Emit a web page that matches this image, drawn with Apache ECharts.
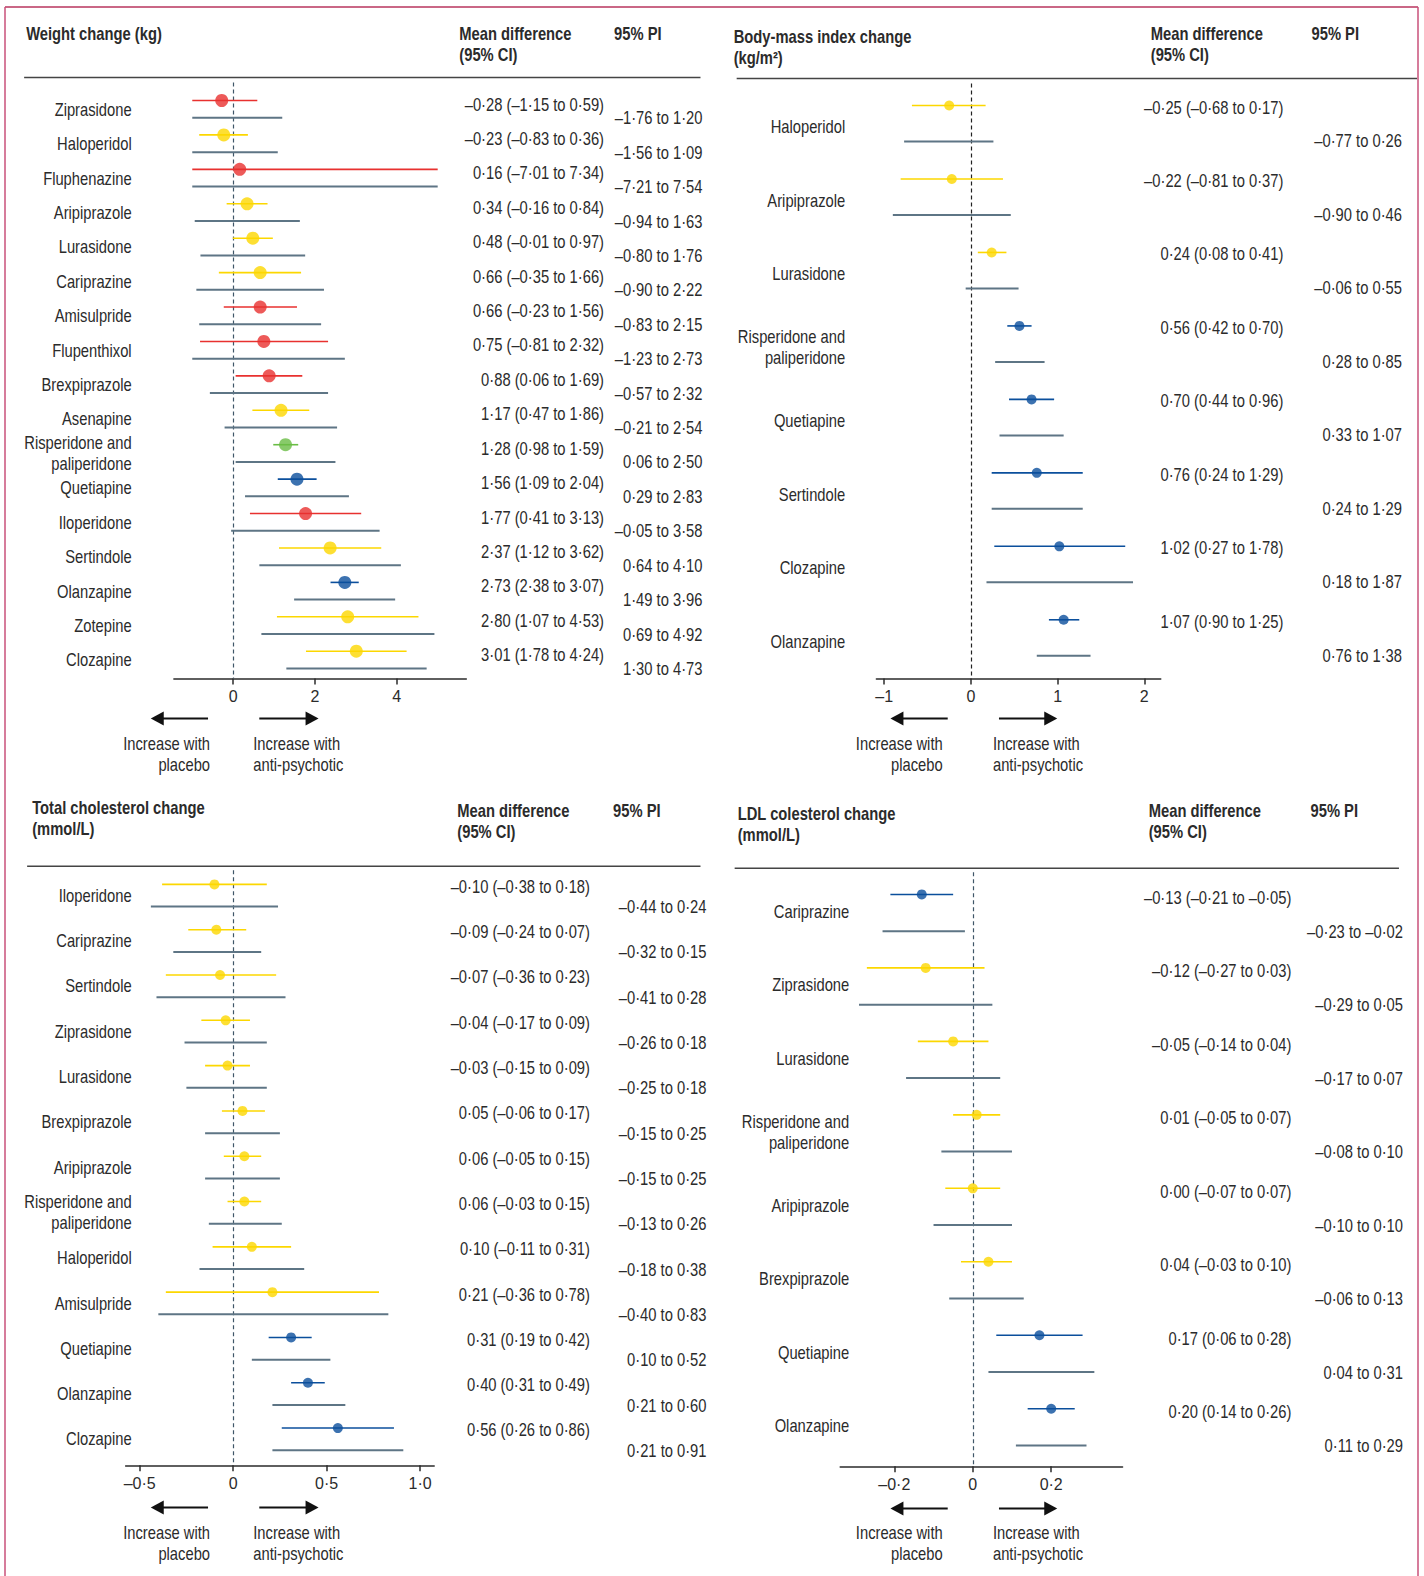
<!DOCTYPE html>
<html><head><meta charset="utf-8">
<script src="https://cdn.jsdelivr.net/npm/echarts@6/dist/echarts.min.js"></script>
<style>html,body{margin:0;padding:0;background:#fff;overflow:hidden;width:1424px;height:1576px}#c{width:1424px;height:1576px;position:absolute;left:0;top:0}</style>
</head><body><div id="c"></div><script>
const FONT = '"Liberation Sans","Arimo",Arial,sans-serif';
const NARROW = 0.82;
const INK = '#2b2b2b';
const S = 1.005; // global layout scale

// ---------- Weight change (kg) ----------
const weightDrugs = ['Ziprasidone','Haloperidol','Fluphenazine','Aripiprazole','Lurasidone','Cariprazine','Amisulpride','Flupenthixol','Brexpiprazole','Asenapine','Risperidone and paliperidone','Quetiapine','Iloperidone','Sertindole','Olanzapine','Zotepine','Clozapine'];
const weightMean  = [-0.28,-0.23,0.16,0.34,0.48,0.66,0.66,0.75,0.88,1.17,1.28,1.56,1.77,2.37,2.73,2.80,3.01];
const weightCiLo  = [-1.15,-0.83,-7.01,-0.16,-0.01,-0.35,-0.23,-0.81,0.06,0.47,0.98,1.09,0.41,1.12,2.38,1.07,1.78];
const weightCiHi  = [0.59,0.36,7.34,0.84,0.97,1.66,1.56,2.32,1.69,1.86,1.59,2.04,3.13,3.62,3.07,4.53,4.24];
const weightPiLo  = [-1.76,-1.56,-7.21,-0.94,-0.80,-0.90,-0.83,-1.23,-0.57,-0.21,0.06,0.29,-0.05,0.64,1.49,0.69,1.30];
const weightPiHi  = [1.20,1.09,7.54,1.63,1.76,2.22,2.15,2.73,2.32,2.54,2.50,2.83,3.58,4.10,3.96,4.92,4.73];
const weightGroup = ['R','Y','R','Y','Y','Y','R','R','R','Y','G','B','R','Y','B','Y','Y'];
const weightTicks = [0,2,4];

// ---------- Body-mass index change ----------
const bmiDrugs = ['Haloperidol','Aripiprazole','Lurasidone','Risperidone and paliperidone','Quetiapine','Sertindole','Clozapine','Olanzapine'];
const bmiMean  = [-0.25,-0.22,0.24,0.56,0.70,0.76,1.02,1.07];
const bmiCiLo  = [-0.68,-0.81,0.08,0.42,0.44,0.24,0.27,0.90];
const bmiCiHi  = [0.17,0.37,0.41,0.70,0.96,1.29,1.78,1.25];
const bmiPiLo  = [-0.77,-0.90,-0.06,0.28,0.33,0.24,0.18,0.76];
const bmiPiHi  = [0.26,0.46,0.55,0.85,1.07,1.29,1.87,1.38];
const bmiGroup = ['Y','Y','Y','B','B','B','B','B'];
const bmiTicks = [-1,0,1,2];

// ---------- Total cholesterol change ----------
const cholDrugs = ['Iloperidone','Cariprazine','Sertindole','Ziprasidone','Lurasidone','Brexpiprazole','Aripiprazole','Risperidone and paliperidone','Haloperidol','Amisulpride','Quetiapine','Olanzapine','Clozapine'];
const cholMean  = [-0.10,-0.09,-0.07,-0.04,-0.03,0.05,0.06,0.06,0.10,0.21,0.31,0.40,0.56];
const cholCiLo  = [-0.38,-0.24,-0.36,-0.17,-0.15,-0.06,-0.05,-0.03,-0.11,-0.36,0.19,0.31,0.26];
const cholCiHi  = [0.18,0.07,0.23,0.09,0.09,0.17,0.15,0.15,0.31,0.78,0.42,0.49,0.86];
const cholPiLo  = [-0.44,-0.32,-0.41,-0.26,-0.25,-0.15,-0.15,-0.13,-0.18,-0.40,0.10,0.21,0.21];
const cholPiHi  = [0.24,0.15,0.28,0.18,0.18,0.25,0.25,0.26,0.38,0.83,0.52,0.60,0.91];
const cholGroup = ['Y','Y','Y','Y','Y','Y','Y','Y','Y','Y','B','B','B'];
const cholTicks = [-0.5,0,0.5,1.0];

// ---------- LDL colesterol change ----------
const ldlDrugs = ['Cariprazine','Ziprasidone','Lurasidone','Risperidone and paliperidone','Aripiprazole','Brexpiprazole','Quetiapine','Olanzapine'];
const ldlMean  = [-0.13,-0.12,-0.05,0.01,0.00,0.04,0.17,0.20];
const ldlCiLo  = [-0.21,-0.27,-0.14,-0.05,-0.07,-0.03,0.06,0.14];
const ldlCiHi  = [-0.05,0.03,0.04,0.07,0.07,0.10,0.28,0.26];
const ldlPiLo  = [-0.23,-0.29,-0.17,-0.08,-0.10,-0.06,0.04,0.11];
const ldlPiHi  = [-0.02,0.05,0.07,0.10,0.10,0.13,0.31,0.29];
const ldlGroup = ['B','Y','Y','Y','Y','Y','B','B'];
const ldlTicks = [-0.2,0,0.2];

const palette = {R:'#e8312f', Y:'#fcd700', G:'#6abd45', B:'#0b4f9c'};
const PI_COLOR = '#5e7585';

function fmt(v){ return (v < 0 ? '\u2013' : '') + Math.abs(v).toFixed(2).replace('.', '\u00b7'); }
function fmtTick(v, d){ if (Math.abs(v) < 1e-9) return '0'; return (v < 0 ? '\u2013' : '') + Math.abs(v).toFixed(d).replace('.', '\u00b7'); }

const panels = [
  { drugs:weightDrugs, mean:weightMean, ciLo:weightCiLo, ciHi:weightCiHi, piLo:weightPiLo, piHi:weightPiHi, grp:weightGroup, ticks:weightTicks, tickDec:0,
    left:173, right:464, top:82, bottom:675, xMin:-1.45, xMax:5.7, clipMin:-1, clipMax:5,
    row0:100, step:34.25, piOff:0.5, nameOff:0.25, meanOff:0.1, piTextOff:0.5, sym:13,
    nameX:131, meanX:601, piX:699, zeroColor:'#3f5668',
    title:['Weight change (kg)'], titleX:26, titleY:33, headX:457, headY:33, piHeadX:611, lineY:77, lineX:[24,697],
    arrowY:715, arrL:[207,150], arrR:[258,317], txtL:209, txtR:252, txtY:740 },
  { drugs:bmiDrugs, mean:bmiMean, ciLo:bmiCiLo, ciHi:bmiCiHi, piLo:bmiPiLo, piHi:bmiPiHi, grp:bmiGroup, ticks:bmiTicks, tickDec:0,
    left:872, right:1155, top:83, bottom:675, xMin:-1.09, xMax:2.19, clipMin:-1.09, clipMax:2.19,
    row0:105, step:73.1, piOff:0.49, nameOff:0.29, meanOff:0.02, piTextOff:0.48, sym:10,
    nameX:841, meanX:1277, piX:1395, zeroColor:'#222222',
    title:['Body-mass index change','(kg/m\u00b2)'], titleX:730, titleY:36, headX:1145, headY:33, piHeadX:1305, lineY:78, lineX:[733,1410],
    arrowY:715, arrL:[943,886], arrR:[994,1052], txtL:938, txtR:988, txtY:740 },
  { drugs:cholDrugs, mean:cholMean, ciLo:cholCiLo, ciHi:cholCiHi, piLo:cholPiLo, piHi:cholPiHi, grp:cholGroup, ticks:cholTicks, tickDec:1,
    left:125, right:432, top:866, bottom:1458, xMin:-0.575, xMax:1.075, clipMin:-0.575, clipMax:1.075,
    row0:880, step:45.08, piOff:0.49, nameOff:0.24, meanOff:0.04, piTextOff:0.49, sym:10,
    nameX:131, meanX:587, piX:703, zeroColor:'#3f5668',
    title:['Total cholesterol change','(mmol/L)'], titleX:32, titleY:803, headX:455, headY:806, piHeadX:610, lineY:862, lineX:[27,697],
    arrowY:1500, arrL:[207,150], arrR:[258,317], txtL:209, txtR:252, txtY:1525 },
  { drugs:ldlDrugs, mean:ldlMean, ciLo:ldlCiLo, ciHi:ldlCiHi, piLo:ldlPiLo, piHi:ldlPiHi, grp:ldlGroup, ticks:ldlTicks, tickDec:1,
    left:836, right:1117, top:868, bottom:1459, xMin:-0.338, xMax:0.382, clipMin:-0.338, clipMax:0.382,
    row0:890, step:73.1, piOff:0.5, nameOff:0.23, meanOff:0.04, piTextOff:0.5, sym:10,
    nameX:845, meanX:1285, piX:1396, zeroColor:'#3f5668',
    title:['LDL colesterol change','(mmol/L)'], titleX:734, titleY:809, headX:1143, headY:806, piHeadX:1304, lineY:864, lineX:[731,1392],
    arrowY:1501, arrL:[943,886], arrR:[994,1052], txtL:938, txtR:988, txtY:1525 }
];

// apply the global layout scale to every pixel constant
const PX_KEYS = ['left','right','top','bottom','row0','step','nameX','meanX','piX','titleX','titleY','headX','headY','piHeadX','lineY','arrowY','txtL','txtR','txtY'];
const PX_ARR = ['lineX','arrL','arrR'];
panels.forEach(function(p){
  PX_KEYS.forEach(function(k){ p[k] = p[k] * S; });
  PX_ARR.forEach(function(k){ p[k] = p[k].map(function(v){ return v * S; }); });
});

const grids = [], xAxes = [], yAxes = [], series = [], graphics = [];

function txt(x, y, s, opt){
  opt = opt || {};
  return { type:'text', x:x, y:y, scaleX:NARROW, scaleY:1, silent:true,
    style:{ text:s, fill:INK, fontFamily:FONT, fontSize:opt.size || 18,
      fontWeight:opt.weight || 'normal', align:opt.align || 'left', verticalAlign:'middle', lineHeight:opt.lh || 21 } };
}

panels.forEach(function(p, k){
  grids.push({ left:p.left, top:p.top, width:p.right - p.left, height:p.bottom - p.top });
  xAxes.push({ gridIndex:k, type:'value', min:p.xMin, max:p.xMax,
    axisLine:{ show:true, onZero:false, lineStyle:{ color:INK, width:1.5 } },
    axisTick:{ show:true, customValues:p.ticks, length:6, lineStyle:{ color:INK, width:1.5 } },
    axisLabel:{ show:true, customValues:p.ticks, formatter:function(v){ return fmtTick(v, p.tickDec); },
      fontSize:16, color:INK, fontFamily:FONT, margin:10 },
    splitLine:{ show:false } });
  yAxes.push({ gridIndex:k, type:'value', inverse:true, show:false,
    min:(p.top - p.row0) / p.step, max:(p.bottom - p.row0) / p.step });

  const clamp = function(v){ return Math.max(p.clipMin, Math.min(p.clipMax, v)); };

  series.push({ type:'custom', xAxisIndex:k, yAxisIndex:k, clip:false, silent:true, z:2,
    data:p.drugs.map(function(d, i){ return [i]; }),
    renderItem:function(params, api){
      const i = api.value(0);
      const a = api.coord([clamp(p.ciLo[i]), i]), b = api.coord([clamp(p.ciHi[i]), i]);
      const c = api.coord([clamp(p.piLo[i]), i + p.piOff]), d = api.coord([clamp(p.piHi[i]), i + p.piOff]);
      const yName = api.coord([0, i + p.nameOff])[1];
      const yMean = api.coord([0, i + p.meanOff])[1];
      const yPi = api.coord([0, i + p.piTextOff])[1];
      return { type:'group', children:[
        { type:'line', shape:{ x1:a[0], y1:a[1], x2:b[0], y2:b[1] }, style:{ stroke:palette[p.grp[i]], lineWidth:1.6 } },
        { type:'line', shape:{ x1:c[0], y1:c[1], x2:d[0], y2:d[1] }, style:{ stroke:PI_COLOR, lineWidth:2 } },
        txt(p.nameX, yName, p.drugs[i].replace(' and ', ' and\n'), { align:'right' }),
        txt(p.meanX, yMean, fmt(p.mean[i]) + ' (' + fmt(p.ciLo[i]) + ' to ' + fmt(p.ciHi[i]) + ')', { align:'right' }),
        txt(p.piX, yPi, fmt(p.piLo[i]) + ' to ' + fmt(p.piHi[i]), { align:'right' })
      ]};
    } });

  series.push({ type:'scatter', xAxisIndex:k, yAxisIndex:k, z:3, silent:true, symbol:'circle', symbolSize:p.sym,
    data:p.mean.map(function(m, i){ return { value:[m, i], itemStyle:{ color:palette[p.grp[i]] } }; }),
    markLine:{ silent:true, symbol:'none', z:1, label:{ show:false },
      lineStyle:{ type:[4,3], color:p.zeroColor, width:1.2 }, data:[{ xAxis:0 }] } });

  // headers
  p.title.forEach(function(t, j){ graphics.push(txt(p.titleX, p.titleY + j * 21, t, { weight:'bold' })); });
  graphics.push(txt(p.headX, p.headY, 'Mean difference', { weight:'bold' }));
  graphics.push(txt(p.headX, p.headY + 21, '(95% CI)', { weight:'bold' }));
  graphics.push(txt(p.piHeadX, p.headY, '95% PI', { weight:'bold' }));
  graphics.push({ type:'line', silent:true, shape:{ x1:p.lineX[0], y1:p.lineY, x2:p.lineX[1], y2:p.lineY }, style:{ stroke:'#444', lineWidth:1.5 } });

  // direction arrows
  const y = p.arrowY;
  graphics.push({ type:'line', silent:true, shape:{ x1:p.arrL[0], y1:y, x2:p.arrL[1] + 8, y2:y }, style:{ stroke:'#111', lineWidth:2 } });
  graphics.push({ type:'polygon', silent:true, shape:{ points:[[p.arrL[1], y], [p.arrL[1] + 13, y - 7], [p.arrL[1] + 13, y + 7]] }, style:{ fill:'#111' } });
  graphics.push({ type:'line', silent:true, shape:{ x1:p.arrR[0], y1:y, x2:p.arrR[1] - 8, y2:y }, style:{ stroke:'#111', lineWidth:2 } });
  graphics.push({ type:'polygon', silent:true, shape:{ points:[[p.arrR[1], y], [p.arrR[1] - 13, y - 7], [p.arrR[1] - 13, y + 7]] }, style:{ fill:'#111' } });
  graphics.push(txt(p.txtL, p.txtY, 'Increase with', { align:'right' }));
  graphics.push(txt(p.txtL, p.txtY + 21, 'placebo', { align:'right' }));
  graphics.push(txt(p.txtR, p.txtY, 'Increase with'));
  graphics.push(txt(p.txtR, p.txtY + 21, 'anti-psychotic'));
});

// frame
graphics.push({ type:'line', silent:true, shape:{ x1:5, y1:7, x2:1418, y2:7 }, style:{ stroke:'#b8345e', lineWidth:1.5 } });
graphics.push({ type:'line', silent:true, shape:{ x1:5, y1:7, x2:5, y2:1576 }, style:{ stroke:'#c8507a', lineWidth:1.5 } });
graphics.push({ type:'line', silent:true, shape:{ x1:1418, y1:7, x2:1418, y2:1576 }, style:{ stroke:'#c8507a', lineWidth:1.5 } });

const chart = echarts.init(document.getElementById('c'), null, { renderer:'svg', width:1424, height:1576 });
chart.setOption({
  animation:false,
  backgroundColor:'#ffffff',
  grid:grids, xAxis:xAxes, yAxis:yAxes, series:series,
  graphic:{ elements:graphics }
});
</script></body></html>
